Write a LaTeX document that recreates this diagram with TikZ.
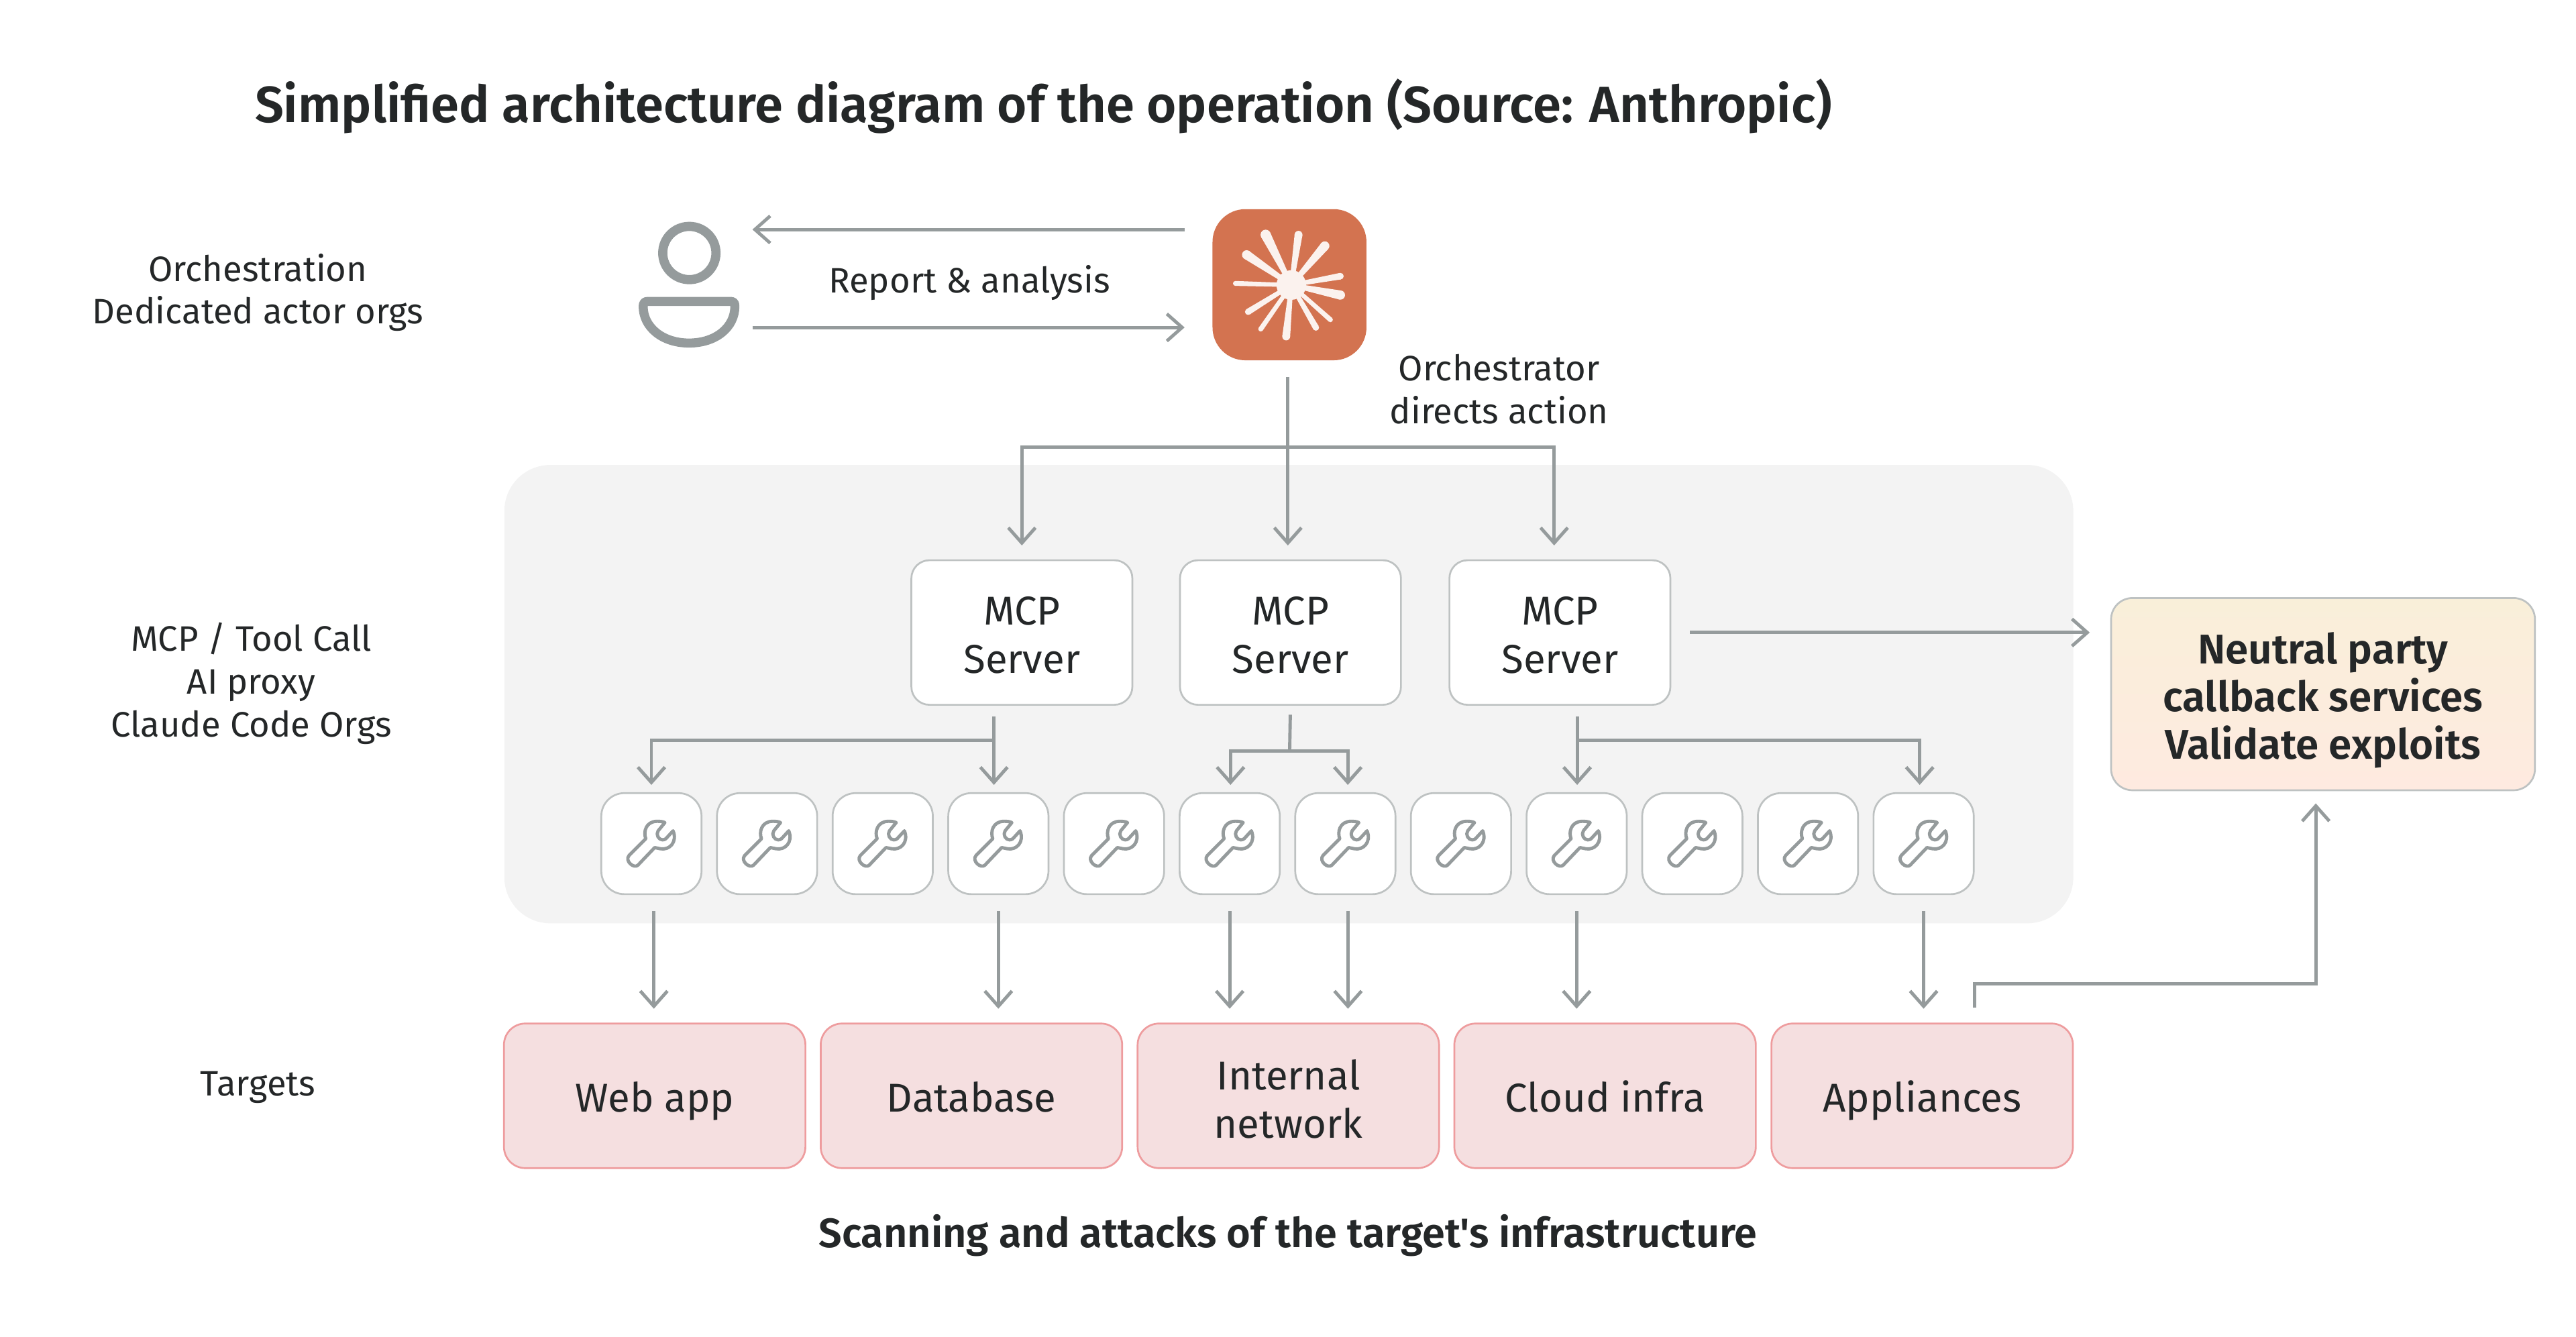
\documentclass[tikz,border=0pt]{standalone}
\usepackage{fontspec}
\setmainfont{Fira Sans}
\newfontfamily\semifont{Fira Sans SemiBold}
\usetikzlibrary{arrows.meta,calc}
\definecolor{inkdark}{HTML}{242728}
\definecolor{flowgray}{HTML}{959B9C}
\definecolor{edgegray}{HTML}{BEC2C2}
\definecolor{panelgray}{HTML}{F3F3F3}
\definecolor{logored}{HTML}{D37350}
\definecolor{rayfill}{HTML}{FBF2EE}
\definecolor{targetfill}{HTML}{F5DFE0}
\definecolor{targetedge}{HTML}{EE9C9E}
\definecolor{neutraltop}{HTML}{F9EFD9}
\definecolor{neutralbottom}{HTML}{FEEAE0}
\tikzset{
  flow/.style={draw=flowgray,line width=2pt,-{Straight Barb[length=9.3pt,width=16.5pt]}},
  plainflow/.style={draw=flowgray,line width=2pt},
  sidelabel/.style={text=inkdark,align=center,font=\fontsize{21.5}{26}\selectfont,inner sep=0pt},
  serverbox/.style={draw=edgegray,line width=1.1pt,fill=white,rounded corners=11pt,
    minimum width=134.5pt,minimum height=88pt,align=center,text=inkdark,
    font=\fontsize{24.5}{29.5}\selectfont,inner sep=0pt,outer sep=0pt},
  toolbox/.style={draw=edgegray,line width=1.1pt,fill=white,rounded corners=14pt,
    minimum width=61pt,minimum height=61.5pt,inner sep=0pt,outer sep=0pt},
  targetbox/.style={draw=targetedge,line width=1.1pt,fill=targetfill,rounded corners=13pt,
    minimum width=183.5pt,minimum height=88pt,align=center,text=inkdark,
    font=\fontsize{24.5}{29.5}\selectfont,inner sep=0pt,outer sep=0pt},
  oneline/.style={text height=20pt,text depth=0pt},
  wrench/.pic={
    \draw[flowgray,line width=2pt,line join=round]
      (-13.6,7.2) -- (-3.4,-3) .. controls (-5,-7) and (-3.5,-13.5) .. (3.4,-13.6)
      .. controls (5,-13.6) and (7,-13.5) .. (8.2,-12.8) -- (4.1,-7.8)
      .. controls (2.5,-5.5) and (4.5,-2.2) .. (6.8,-2.3)
      .. controls (7.6,-2.3) and (8.3,-2.6) .. (8.8,-3) -- (13.2,-7.8)
      .. controls (16,-1) and (11,4.2) .. (5.4,3.1) -- (2,2.4) -- (-8.2,13.1)
      .. controls (-10.5,15.5) and (-16.5,10.5) .. (-13.6,7.2) -- cycle;
  },
}
\newcommand{\logoray}[3]{%
  \coordinate (raytip) at ($(star)+(#1,#2)$);
  \fill[rayfill] ($(star)!1.2pt!90:(raytip)$) -- ($(raytip)!0.5*#3pt!-90:(star)$)
    -- ($(raytip)!0.5*#3pt!90:(star)$) -- ($(star)!1.2pt!-90:(raytip)$) -- cycle;
  \fill[rayfill] (raytip) circle (0.5*#3);
}
\begin{document}
\begin{tikzpicture}[x=1pt,y=-1pt]
  \useasboundingbox (0,0) rectangle (1568,813.8);

  \node[fill=panelgray,rounded corners=28pt,minimum width=955pt,minimum height=279pt,
    inner sep=0pt,outer sep=0pt] (panel) at (784.5,422.5) {};

  \node[anchor=west,text=inkdark,inner sep=0pt,font=\semifont\fontsize{31}{36}\selectfont]
    (title) at (155,64.5) {Simplified architecture diagram of the operation (Source: Anthropic)};

  \node[sidelabel] (orchlabel) at (157,178) {Orchestration\\Dedicated actor orgs};
  \node[sidelabel] (mcplabel) at (153,416) {MCP / Tool Call\\AI proxy\\Claude Code Orgs};
  \node[sidelabel] (targetslabel) at (157,662) {Targets};

  \node[minimum width=62pt,minimum height=77pt,inner sep=0pt,outer sep=0pt] (user) at (419.5,173) {};
  \draw[flowgray,line width=5.6pt] (419.6,154) circle (16.2);
  \draw[flowgray,line width=5.5pt,line join=round]
    (394,183.5) -- (445,183.5) .. controls (446.7,183.5) and (447.3,184.5) .. (447.3,186.5)
    .. controls (447.3,199) and (436,208.8) .. (419.4,208.8)
    .. controls (403,208.8) and (391.5,199) .. (391.5,186.5)
    .. controls (391.5,184.5) and (392.3,183.5) .. (394,183.5) -- cycle;

  \node[fill=logored,rounded corners=20pt,minimum width=93.7pt,minimum height=92pt,
    inner sep=0pt,outer sep=0pt] (logo) at (784.9,173.3) {};
  \coordinate (star) at (786,173.5);
  \logoray{-15.6}{-30.6}{6.2}
  \logoray{4.4}{-30.6}{4.8}
  \logoray{20.4}{-23.8}{5.6}
  \logoray{-27.2}{-18.4}{5.6}
  \logoray{29.9}{-5.4}{4}
  \logoray{-34}{-1}{3}
  \logoray{29.9}{6.1}{5.6}
  \logoray{-26.3}{16.3}{3.8}
  \logoray{23.8}{21.1}{3}
  \logoray{-18.6}{26.8}{3}
  \logoray{15}{25.9}{3.8}
  \logoray{-3.1}{31.3}{4.8}
  \fill[rayfill] (star) circle (9);

  \node[sidelabel] (reportlabel) at (590,172) {Report \& analysis};
  \node[sidelabel] (directlabel) at (912.5,237) {Orchestrator\\directs action};

  \draw[flow,shorten <=17pt,shorten >=7.5pt] ([yshift=33.6pt]logo.west) -- ([yshift=33.3pt]user.east);
  \draw[flow,shorten <=7.5pt,shorten >=17pt] ([yshift=-26.3pt]user.east) -- ([yshift=-26pt]logo.west);

  \node[serverbox] (server1) at (622,385) {\rule{0pt}{20.5pt}MCP\\Server};
  \node[serverbox] (server2) at (785.5,385) {\rule{0pt}{20.5pt}MCP\\Server};
  \node[serverbox] (server3) at (949.5,385) {\rule{0pt}{20.5pt}MCP\\Server};

  \coordinate (split) at (784,272);
  \draw[flow,shorten <=10pt,shorten >=9pt] ([xshift=-1pt]logo.south) -- ([xshift=-1pt]logo.south |- server2.north);
  \draw[flow,shorten >=9pt] (split) -| (server1.north);
  \draw[flow,shorten >=9pt] (split) -| ([xshift=-3.5pt]server3.north);

  \node[toolbox] (tool1) at (396.5,513.5) {};
  \node[toolbox] (tool2) at (466.9,513.5) {};
  \node[toolbox] (tool3) at (537.3,513.5) {};
  \node[toolbox] (tool4) at (607.7,513.5) {};
  \node[toolbox] (tool5) at (678.1,513.5) {};
  \node[toolbox] (tool6) at (748.5,513.5) {};
  \node[toolbox] (tool7) at (818.9,513.5) {};
  \node[toolbox] (tool8) at (889.3,513.5) {};
  \node[toolbox] (tool9) at (959.7,513.5) {};
  \node[toolbox] (tool10) at (1030.1,513.5) {};
  \node[toolbox] (tool11) at (1100.5,513.5) {};
  \node[toolbox] (tool12) at (1170.9,513.5) {};
  \pic at (tool1) {wrench};
  \pic at (tool2) {wrench};
  \pic at (tool3) {wrench};
  \pic at (tool4) {wrench};
  \pic at (tool5) {wrench};
  \pic at (tool6) {wrench};
  \pic at (tool7) {wrench};
  \pic at (tool8) {wrench};
  \pic at (tool9) {wrench};
  \pic at (tool10) {wrench};
  \pic at (tool11) {wrench};
  \pic at (tool12) {wrench};

  \coordinate (fork1) at (605,450.5);
  \coordinate (fork2) at (785,457);
  \coordinate (fork3) at (960,450.5);
  \draw[flow,shorten <=7pt,shorten >=5pt] ([xshift=-17pt]server1.south) -- ([xshift=-2.7pt]tool4.north);
  \draw[flow,shorten >=5pt] (fork1) -| (tool1.north);
  \draw[plainflow,shorten <=6pt] (server2.south) -- (fork2);
  \draw[flow,shorten >=5pt] (fork2) -| ([xshift=0.5pt]tool6.north);
  \draw[flow,shorten >=5pt] (fork2) -| ([xshift=1.5pt]tool7.north);
  \draw[flow,shorten <=7pt,shorten >=5pt] ([xshift=10.5pt]server3.south) -- ([xshift=0.3pt]tool9.north);
  \draw[flow,shorten >=5pt] (fork3) -| ([xshift=-2.4pt]tool12.north);

  \node[draw=edgegray,line width=1.1pt,top color=neutraltop,bottom color=neutralbottom,
    rounded corners=13pt,minimum width=258pt,minimum height=117pt,align=center,text=inkdark,
    font=\semifont\fontsize{25.3}{29}\selectfont,inner sep=0pt,outer sep=0pt]
    (neutral) at (1414,422.5) {\rule{0pt}{26.5pt}Neutral party\\callback services\\Validate exploits};
  \draw[flow,shorten <=12pt,shorten >=13pt] (server3.east) -- (server3.east -| neutral.west);

  \node[targetbox,oneline] (webapp) at (398.5,667) {Web app};
  \node[targetbox,oneline] (database) at (591.3,667) {Database};
  \node[targetbox] (internal) at (784.2,667) {\rule{0pt}{22.5pt}Internal\\network};
  \node[targetbox,oneline] (cloud) at (977,667) {Cloud infra};
  \node[targetbox,oneline] (appliances) at (1170,667) {Appliances};

  \draw[flow,shorten <=10.4pt,shorten >=9pt] ([xshift=1.5pt]tool1.south) -- ([xshift=1.5pt]tool1.south |- webapp.north);
  \draw[flow,shorten <=10.4pt,shorten >=9pt] (tool4.south) -- (tool4.south |- database.north);
  \draw[flow,shorten <=10.4pt,shorten >=9pt] (tool6.south) -- (tool6.south |- internal.north);
  \draw[flow,shorten <=10.4pt,shorten >=9pt] ([xshift=1.6pt]tool7.south) -- ([xshift=1.6pt]tool7.south |- internal.north);
  \draw[flow,shorten <=10.4pt,shorten >=9pt] (tool9.south) -- (tool9.south |- cloud.north);
  \draw[flow,shorten <=10.4pt,shorten >=9pt] (tool12.south) -- (tool12.south |- appliances.north);

  \coordinate (bend) at (1409.6,598.7);
  \draw[flow,shorten <=9.5pt,shorten >=8pt] ([xshift=32pt]appliances.north) |- (bend) -- ([xshift=-4.4pt]neutral.south);

  \node[text=inkdark,inner sep=0pt,font=\semifont\fontsize{25}{30}\selectfont]
    (caption) at (784,752) {Scanning and attacks of the target's infrastructure};
\end{tikzpicture}
\end{document}
